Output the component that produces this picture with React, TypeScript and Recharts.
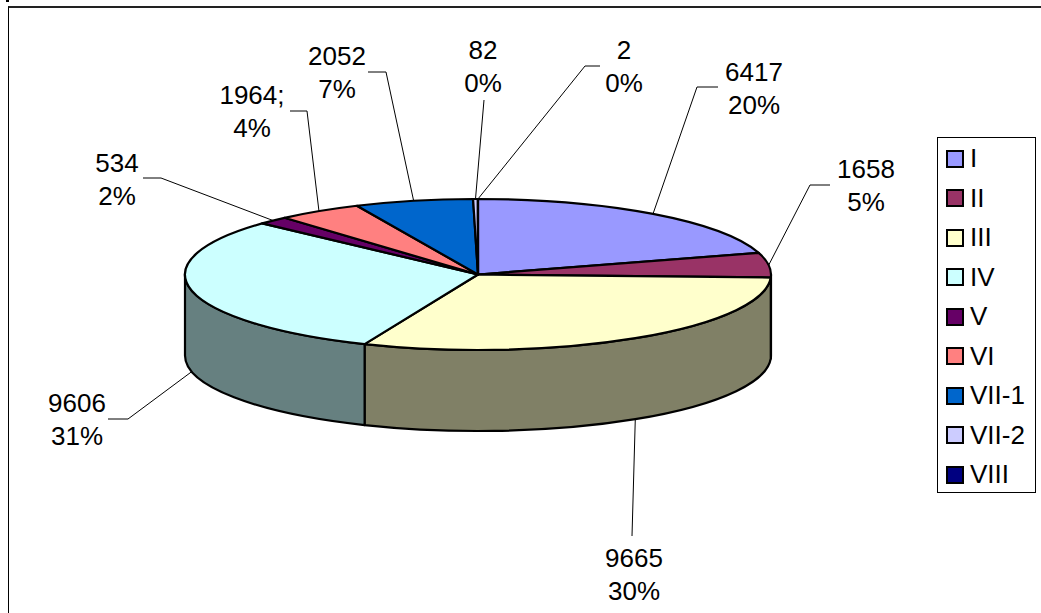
import React from "react";
import { PieChart, Pie, Legend } from "recharts";

const categories = ["I", "II", "III", "IV", "V", "VI", "VII-1", "VII-2", "VIII"];
// Values printed on the reference's labels.
const labelValues = ["6417", "1658", "9665", "9606", "534", "1964;", "2052", "82", "2"];
const labelPercents = ["20%", "5%", "30%", "31%", "2%", "4%", "7%", "0%", "0%"];
// Values that set the slice sizes. Slice VI is drawn narrower in the reference than its
// printed 1964 would give, so its size here is measured from the picture.
const sliceValues = [6417, 1658, 9665, 9606, 534, 1480, 2052, 82, 2];
const topColors = ["#9999FF", "#993366", "#FFFFCC", "#CCFFFF", "#660066", "#FF8080", "#0066CC", "#CCCCFF", "#000080"];
const wallColors = ["#4D4D80", "#4D1A33", "#808066", "#668080", "#330033", "#804040", "#003366", "#666680", "#000040"];

const rows = categories.map((name, i) => ({ name, value: sliceValues[i], fill: topColors[i], wall: wallColors[i] }));

// Layout of the callouts: text centre and the bend of each leader line.
const callouts = [
  { x: 754, y: 72, bend: [697, 87], stub: [718, 87] },
  { x: 866, y: 169, bend: [810, 185], stub: [830, 185] },
  { x: 634, y: 558, bend: [632, 536], stub: [632, 536] },
  { x: 77, y: 403, bend: [128, 419], stub: [108, 419] },
  { x: 117, y: 163, bend: [161, 178], stub: [143, 178] },
  { x: 252, y: 95, bend: [307, 111], stub: [290, 111] },
  { x: 337, y: 56, bend: [386, 72], stub: [368, 72] },
  { x: 483, y: 50, bend: [484, 100], stub: [484, 100] },
  { x: 624, y: 50, bend: [585, 66], stub: [600, 66] },
];

const TILT = 75.5 / 293;
const DEPTH = 81;
const FONT = "'Liberation Sans', Arial, sans-serif";
const FS = 26;

const pt = (cx: number, cy: number, r: number, deg: number) => {
  const a = (deg * Math.PI) / 180;
  return { x: cx + r * Math.cos(a), y: cy - r * TILT * Math.sin(a) };
};

const TopSlice = (p: any) => {
  const { cx, cy, outerRadius: r, startAngle, endAngle, fill } = p;
  const s = pt(cx, cy, r, startAngle);
  const e = pt(cx, cy, r, endAngle);
  const large = Math.abs(startAngle - endAngle) > 180 ? 1 : 0;
  const d = `M${cx},${cy} L${s.x},${s.y} A${r},${r * TILT} 0 ${large} 1 ${e.x},${e.y} Z`;
  return <path d={d} fill={fill} stroke="#000" strokeWidth={2.2} strokeLinejoin="round" />;
};

const WallSlice = (p: any) => {
  const { cx, cy, outerRadius: r, startAngle, endAngle, payload } = p;
  // Only the part facing the viewer (below the ellipse's horizontal axis) is visible.
  const a0 = Math.min(startAngle, 0);
  const a1 = Math.max(endAngle, -180);
  if (a0 <= a1) return <g />;
  const s = pt(cx, cy, r, a0);
  const e = pt(cx, cy, r, a1);
  const ry = r * TILT;
  const d = `M${s.x},${s.y} A${r},${ry} 0 0 1 ${e.x},${e.y} L${e.x},${e.y + DEPTH} A${r},${ry} 0 0 0 ${s.x},${s.y + DEPTH} Z`;
  return <path d={d} fill={payload?.wall ?? p.wall} stroke="#000" strokeWidth={2.2} strokeLinejoin="round" />;
};

const Callout = (p: any) => {
  const { cx, cy, outerRadius: r, midAngle, index } = p;
  const c = callouts[index];
  const a = pt(cx, cy, r, midAngle);
  const front = Math.sin((midAngle * Math.PI) / 180) < -0.05;
  const ay = front ? a.y + DEPTH : a.y;
  return (
    <g>
      <polyline
        points={`${a.x},${ay} ${c.bend[0]},${c.bend[1]} ${c.stub[0]},${c.stub[1]}`}
        fill="none"
        stroke="#000"
        strokeWidth={1}
      />
      <text x={c.x} y={c.y + 9} textAnchor="middle" fontFamily={FONT} fontSize={FS} fill="#000">
        {labelValues[index]}
      </text>
      <text x={c.x} y={c.y + 42} textAnchor="middle" fontFamily={FONT} fontSize={FS} fill="#000">
        {labelPercents[index]}
      </text>
    </g>
  );
};

const LegendBox = () => (
  <div
    style={{
      width: 99,
      height: 356,
      boxSizing: "border-box",
      border: "1px solid #000",
      paddingTop: 1,
      background: "#fff",
    }}
  >
    {categories.map((name, i) => (
      <div key={name} style={{ height: 39.5, display: "flex", alignItems: "center", fontFamily: FONT, fontSize: FS, color: "#000" }}>
        <span
          style={{
            width: 18,
            height: 18,
            marginLeft: 8,
            marginRight: 6,
            boxSizing: "border-box",
            border: "2px solid #000",
            background: topColors[i],
            flex: "none",
          }}
        />
        <span>{name}</span>
      </div>
    ))}
  </div>
);

export default function App() {
  return (
    <div style={{ position: "absolute", left: 0, top: 0, width: 1041, height: 613, overflow: "hidden", background: "#fff" }}>
      <div style={{ position: "absolute", left: 6, top: 0, width: 3, height: 2, background: "#000" }} />
      <div style={{ position: "absolute", left: 8, top: 6, width: 1100, height: 700, boxSizing: "border-box", borderTop: "2px solid #222", borderLeft: "1px solid #000" }} />
      <div style={{ position: "absolute", left: 0, top: 0 }}>
        <PieChart width={1041} height={613} margin={{ top: 0, right: 0, bottom: 0, left: 0 }}>
          <Pie
            data={rows}
            dataKey="value"
            nameKey="name"
            cx={478}
            cy={274.5}
            outerRadius={293}
            innerRadius={0}
            startAngle={90}
            endAngle={-270}
            isAnimationActive={false}
            legendType="none"
            shape={WallSlice}
            rootTabIndex={-1}
          />
          <Pie
            data={rows}
            dataKey="value"
            nameKey="name"
            cx={478}
            cy={274.5}
            outerRadius={293}
            innerRadius={0}
            startAngle={90}
            endAngle={-270}
            isAnimationActive={false}
            shape={TopSlice}
            label={Callout}
            labelLine={false}
            rootTabIndex={-1}
          />
          <Legend
            content={<LegendBox />}
            layout="vertical"
            align="right"
            verticalAlign="top"
            wrapperStyle={{ position: "absolute", left: 937, top: 137, width: 99, height: 356 }}
          />
        </PieChart>
      </div>
    </div>
  );
}
